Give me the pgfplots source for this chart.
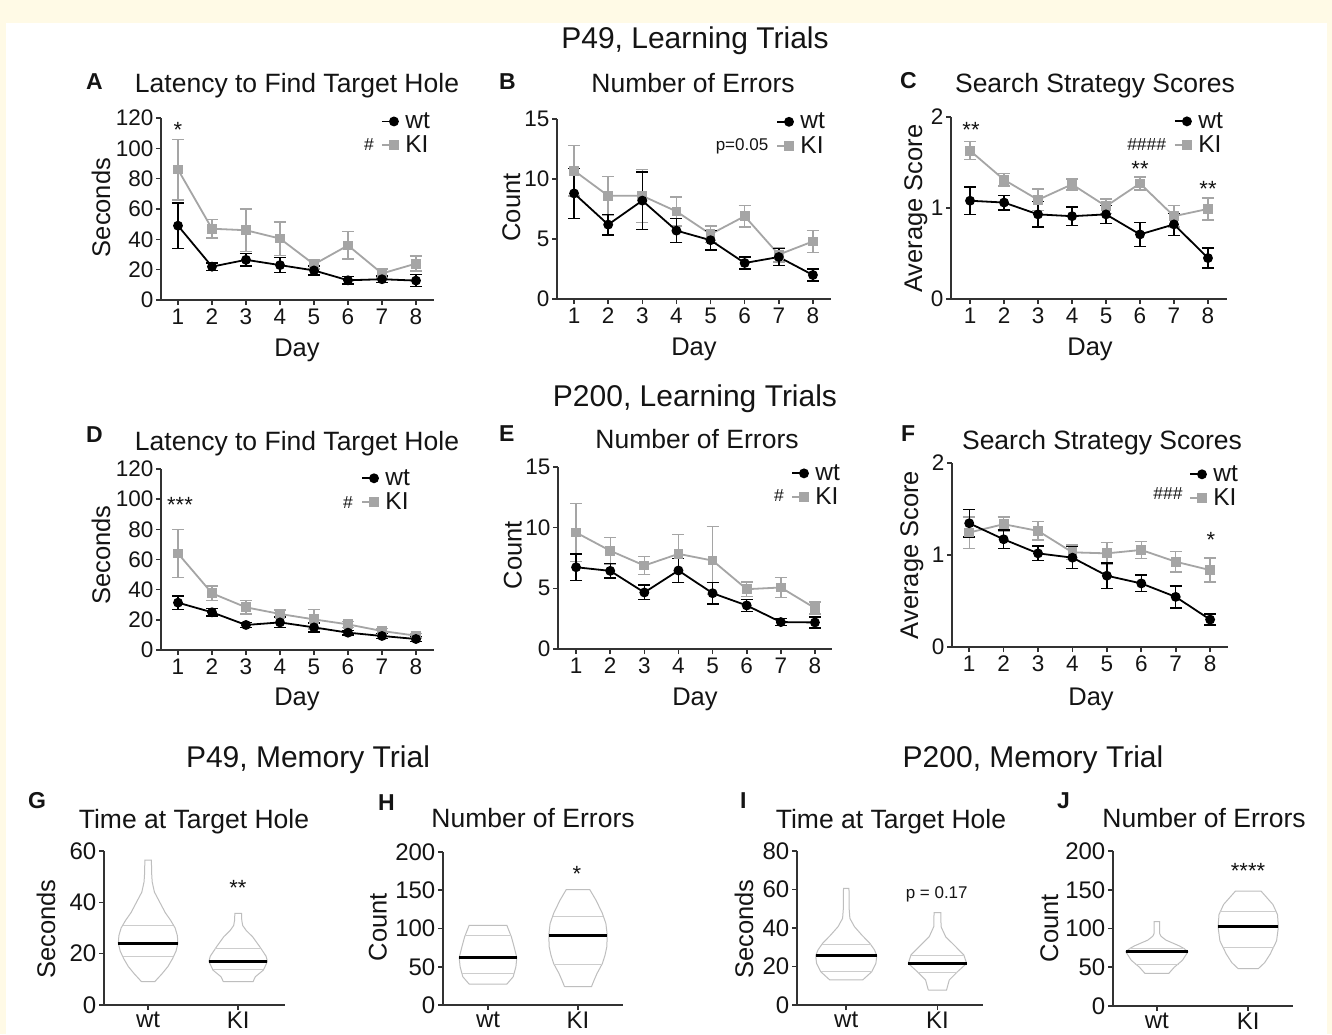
\documentclass[border=0pt]{standalone}
\usepackage{fontspec}
\setmainfont{Liberation Sans}
\usepackage{pgfplots}
\usepackage{pgfplotstable}
\pgfplotsset{compat=1.18}
\definecolor{cream}{RGB}{255,250,230}
\definecolor{kigray}{RGB}{165,165,165}
\definecolor{axgray}{RGB}{50,50,50}
\definecolor{vgray}{RGB}{190,190,190}
\definecolor{qgray}{RGB}{205,205,205}
\definecolor{txt}{RGB}{20,20,20}
\newcommand{\fs}[1]{\fontsize{#1}{#1}\selectfont}

\pgfplotstableread{
x wt ewt ki eki
1 49 15 86 20
2 22 2.5 47 6
3 26.5 4 46 14
4 23 5 40.5 11
5 19.5 3 23.5 3
6 13 2.5 36 9
7 13.7 2 17.5 3
8 12.8 4 24 5
}\tabA
\pgfplotstableread{
x wt ewt ki eki
1 8.8 2.1 10.7 2.1
2 6.2 0.85 8.6 1.6
3 8.2 2.4 8.6 2.2
4 5.7 1.0 7.3 1.2
5 4.9 0.8 5.4 0.7
6 3.0 0.5 6.9 0.9
7 3.5 0.7 3.7 0.6
8 2.0 0.5 4.8 0.9
}\tabB
\pgfplotstableread{
x wt ewt ki eki
1 1.08 0.15 1.63 0.10
2 1.06 0.08 1.31 0.07
3 0.93 0.14 1.09 0.12
4 0.91 0.10 1.26 0.06
5 0.93 0.10 1.02 0.08
6 0.71 0.13 1.27 0.07
7 0.82 0.12 0.91 0.12
8 0.45 0.11 0.99 0.12
}\tabC
\pgfplotstableread{
x wt ewt ki eki
1 31.4 4.5 64 16
2 25 2.5 37.6 4.8
3 16.6 1.5 28.3 4.5
4 18.3 3.5 23.9 2.5
5 15 3 20.3 6.5
6 11.5 1.5 17 2
7 9.3 1.5 12.6 1.5
8 7.3 1.5 9.5 1.5
}\tabD
\pgfplotstableread{
x wt ewt ki eki
1 6.74 1.1 9.6 2.4
2 6.44 0.6 8.1 1.1
3 4.66 0.6 6.88 0.75
4 6.47 1.0 7.84 1.6
5 4.6 0.9 7.29 2.8
6 3.59 0.5 4.93 0.6
7 2.22 0.3 5.07 0.8
8 2.19 0.45 3.37 0.5
}\tabE
\pgfplotstableread{
x wt ewt ki eki
1 1.345 0.15 1.244 0.17
2 1.171 0.10 1.335 0.08
3 1.018 0.08 1.262 0.10
4 0.971 0.12 1.029 0.08
5 0.775 0.14 1.018 0.12
6 0.691 0.09 1.055 0.09
7 0.545 0.12 0.927 0.11
8 0.298 0.06 0.836 0.13
}\tabF

\pgfplotsset{
  legend image code/.code={\draw[mark repeat=2,mark phase=2,#1] plot coordinates {(0pt,0pt) (12pt,0pt) (14pt,0pt)}; \path (21pt,0pt);},
  gp/.style={
    scale only axis, axis lines*=left,
    axis line style={line width=1.8pt, axgray, -},
    tick style={line width=1.6pt, axgray}, tick align=outside, major tick length=5pt,
    /pgf/number format/assume math mode=true,
    ticklabel style={font=\fs{22.5}, text=txt},
    yticklabel style={inner sep=2.5pt},
    clip=false,
  },
  lineax/.style={gp, xtick={1,...,8},
    legend style={draw=none, fill=none, font=\fs{24.5}, anchor=north east, inner sep=0pt,
      row sep=3pt, nodes={inner sep=1.5pt, text=txt}},
    legend cell align=left, reverse legend},
  wtp/.style={black, line width=1.8pt, mark=*, mark size=4pt, mark options={solid, fill=black, draw=black},
    error bars/.cd, y dir=both, y explicit,
    error bar style={line width=1.4pt, black},
    error mark options={rotate=90, mark size=6pt, line width=1.4pt, black}},
  kip/.style={kigray, line width=1.8pt, mark=square*, mark size=4pt, mark options={solid, fill=kigray, draw=kigray},
    error bars/.cd, y dir=both, y explicit,
    error bar style={line width=1.4pt, kigray},
    error mark options={rotate=90, mark size=6pt, line width=1.4pt, kigray}},
  vio/.style={gp, xtick={1,2}, xticklabels={wt,KI},
    ticklabel style={font=\fs{24}},
    xticklabel style={font=\fs{24}, inner sep=1.5pt}},
  vout/.style={draw=vgray, line width=1pt, mark=none},
  vq/.style={draw=qgray, line width=1pt, mark=none},
  vmed/.style={draw=black, line width=3pt, mark=none},
}

\begin{document}
\begin{tikzpicture}[x=1pt,y=1pt]
\useasboundingbox (0,0) rectangle (1332,-1034);
\fill[cream] (0,0) rectangle (1332,-1034);
\fill[white] (6,-23) rectangle (1327,-1034);

% ---------- A ----------
\begin{axis}[lineax, at={(161pt,-300pt)}, anchor=south west, width=273pt, height=182pt,
  xmin=0.5, xmax=8.53, ymin=0, ymax=120, ytick={0,20,...,120}, legend style={at={(0.991,1.038)}}]
\addplot[kip] table[x=x, y=ki, y error=eki] {\tabA}; \addlegendentry{KI}
\addplot[wtp] table[x=x, y=wt, y error=ewt] {\tabA}; \addlegendentry{wt}
\end{axis}
% ---------- B ----------
\begin{axis}[lineax, at={(557pt,-299pt)}, anchor=south west, width=274pt, height=180pt,
  xmin=0.5, xmax=8.53, ymin=0, ymax=15, ytick={0,5,10,15}, legend style={at={(0.984,1.042)}}]
\addplot[kip] table[x=x, y=ki, y error=eki] {\tabB}; \addlegendentry{KI}
\addplot[wtp] table[x=x, y=wt, y error=ewt] {\tabB}; \addlegendentry{wt}
\end{axis}
% ---------- C ----------
\begin{axis}[lineax, at={(951pt,-299pt)}, anchor=south west, width=276pt, height=182pt,
  xmin=0.44, xmax=8.56, ymin=0, ymax=2, ytick={0,1,2}, legend style={at={(0.991,1.033)}}]
\addplot[kip] table[x=x, y=ki, y error=eki] {\tabC}; \addlegendentry{KI}
\addplot[wtp] table[x=x, y=wt, y error=ewt] {\tabC}; \addlegendentry{wt}
\end{axis}
% ---------- D ----------
\begin{axis}[lineax, at={(161pt,-650pt)}, anchor=south west, width=273pt, height=181pt,
  xmin=0.5, xmax=8.53, ymin=0, ymax=120, ytick={0,20,...,120}, legend style={at={(0.918,1.006)}}]
\addplot[kip] table[x=x, y=ki, y error=eki] {\tabD}; \addlegendentry{KI}
\addplot[wtp] table[x=x, y=wt, y error=ewt] {\tabD}; \addlegendentry{wt}
\end{axis}
% ---------- E ----------
\begin{axis}[lineax, at={(558pt,-649pt)}, anchor=south west, width=274pt, height=182pt,
  xmin=0.47, xmax=8.5, ymin=0, ymax=15, ytick={0,5,10,15}, legend style={at={(1.035,1.022)}}]
\addplot[kip] table[x=x, y=ki, y error=eki] {\tabE}; \addlegendentry{KI}
\addplot[wtp] table[x=x, y=wt, y error=ewt] {\tabE}; \addlegendentry{wt}
\end{axis}
% ---------- F ----------
\begin{axis}[lineax, at={(952pt,-647pt)}, anchor=south west, width=276pt, height=184pt,
  xmin=0.5, xmax=8.52, ymin=0, ymax=2, ytick={0,1,2}, legend style={at={(1.042,0.995)}}]
\addplot[kip] table[x=x, y=ki, y error=eki] {\tabF}; \addlegendentry{KI}
\addplot[wtp] table[x=x, y=wt, y error=ewt] {\tabF}; \addlegendentry{wt}
\end{axis}

% ---------- G ----------
\begin{axis}[vio, at={(104pt,-1005pt)}, anchor=south west, width=181pt, height=154pt,
  xmin=0.51, xmax=2.52, ymin=0, ymax=60, ytick={0,20,40,60}]
\addplot[vout] coordinates {(0.926,9.1) (0.89,10.5) (0.85,12) (0.78,15) (0.73,18) (0.69,21) (0.67,24) (0.675,27) (0.70,30) (0.75,33) (0.81,36) (0.87,40) (0.93,44) (0.955,48) (0.962,52) (0.963,56.5)
 (1.037,56.5) (1.038,52) (1.045,48) (1.07,44) (1.13,40) (1.19,36) (1.25,33) (1.30,30) (1.325,27) (1.33,24) (1.31,21) (1.27,18) (1.22,15) (1.15,12) (1.11,10.5) (1.074,9.1) (0.926,9.1)};
\addplot[vq] coordinates {(0.72,31) (1.28,31)};
\addplot[vq] coordinates {(0.72,19) (1.28,19)};
\addplot[vmed] coordinates {(0.665,24) (1.335,24)};
\addplot[vout] coordinates {(1.835,9.1) (1.81,11) (1.72,13.6) (1.675,17) (1.69,19) (1.76,22.7) (1.84,26.6) (1.91,29) (1.95,31) (1.96,33) (1.963,35.7)
 (2.037,35.7) (2.04,33) (2.05,31) (2.09,29) (2.16,26.6) (2.24,22.7) (2.31,19) (2.325,17) (2.28,13.6) (2.19,11) (2.165,9.1) (1.835,9.1)};
\addplot[vq] coordinates {(1.747,22) (2.253,22)};
\addplot[vq] coordinates {(1.72,13.8) (2.28,13.8)};
\addplot[vmed] coordinates {(1.675,17) (2.325,17)};
\end{axis}

% ---------- H ----------
\begin{axis}[vio, at={(443pt,-1005pt)}, anchor=south west, width=180pt, height=153pt,
  xmin=0.5, xmax=2.5, ymin=0, ymax=200, ytick={0,50,...,200}]
\addplot[vout] coordinates {(0.79,27.4) (0.72,37) (0.69,50) (0.68,62) (0.71,76) (0.74,89) (0.77,98) (0.79,104)
 (1.21,104) (1.23,98) (1.26,89) (1.29,76) (1.32,62) (1.31,50) (1.28,37) (1.21,27.4) (0.79,27.4)};
\addplot[vq] coordinates {(0.74,90.4) (1.26,90.4)};
\addplot[vq] coordinates {(0.71,41.3) (1.29,41.3)};
\addplot[vmed] coordinates {(0.68,61.7) (1.32,61.7)};
\addplot[vout] coordinates {(1.85,24) (1.83,30) (1.79,41) (1.73,54) (1.70,65) (1.68,76) (1.675,91) (1.69,106.5) (1.73,120) (1.80,137) (1.87,151)
 (2.13,151) (2.20,137) (2.27,120) (2.31,106.5) (2.325,91) (2.32,76) (2.30,65) (2.27,54) (2.21,41) (2.17,30) (2.15,24) (1.85,24)};
\addplot[vq] coordinates {(1.72,116) (2.28,116)};
\addplot[vq] coordinates {(1.735,53) (2.265,53)};
\addplot[vmed] coordinates {(1.675,91) (2.325,91)};
\end{axis}

% ---------- I ----------
\begin{axis}[vio, at={(797pt,-1005pt)}, anchor=south west, width=186pt, height=154pt,
  xmin=0.46, xmax=2.5, ymin=0, ymax=80, ytick={0,20,...,80}]
\addplot[vout] coordinates {(0.82,13) (0.72,17.3) (0.675,21.6) (0.665,25.6) (0.69,28.6) (0.74,32) (0.83,36.4) (0.91,40.7) (0.96,45) (0.968,50) (0.97,60.6)
 (1.03,60.6) (1.032,50) (1.04,45) (1.09,40.7) (1.17,36.4) (1.26,32) (1.31,28.6) (1.335,25.6) (1.325,21.6) (1.28,17.3) (1.18,13) (0.82,13)};
\addplot[vq] coordinates {(0.73,31.5) (1.27,31.5)};
\addplot[vq] coordinates {(0.72,17.3) (1.28,17.3)};
\addplot[vmed] coordinates {(0.665,25.6) (1.335,25.6)};
\addplot[vout] coordinates {(1.90,7.8) (1.87,13) (1.78,17.3) (1.68,21.6) (1.71,26) (1.80,30.3) (1.91,35.5) (1.96,40.7) (1.963,48)
 (2.037,48) (2.04,40.7) (2.09,35.5) (2.20,30.3) (2.29,26) (2.32,21.6) (2.22,17.3) (2.13,13) (2.10,7.8) (1.90,7.8)};
\addplot[vq] coordinates {(1.71,25.6) (2.29,25.6)};
\addplot[vq] coordinates {(1.79,16.8) (2.21,16.8)};
\addplot[vmed] coordinates {(1.68,21.6) (2.32,21.6)};
\end{axis}

% ---------- J ----------
\begin{axis}[vio, at={(1113pt,-1006pt)}, anchor=south west, width=180pt, height=155pt,
  xmin=0.52, xmax=2.49, ymin=0, ymax=200, ytick={0,50,...,200}]
\addplot[vout] coordinates {(0.87,42) (0.81,50) (0.72,59) (0.66,70) (0.70,74) (0.755,77.6) (0.90,85) (0.955,90) (0.97,93.8) (0.97,108.8)
 (1.03,108.8) (1.03,93.8) (1.045,90) (1.10,85) (1.245,77.6) (1.30,74) (1.34,70) (1.28,59) (1.19,50) (1.13,42) (0.87,42)};
\addplot[vq] coordinates {(0.70,74) (1.30,74)};
\addplot[vq] coordinates {(0.76,54) (1.24,54)};
\addplot[vmed] coordinates {(0.66,70) (1.34,70)};
\addplot[vout] coordinates {(1.89,48.2) (1.82,56) (1.76,67) (1.69,84) (1.67,102) (1.68,118) (1.73,131) (1.86,148.3)
 (2.14,148.3) (2.27,131) (2.32,118) (2.33,102) (2.31,84) (2.24,67) (2.18,56) (2.11,48.2) (1.89,48.2)};
\addplot[vq] coordinates {(1.69,121.7) (2.31,121.7)};
\addplot[vq] coordinates {(1.72,75) (2.28,75)};
\addplot[vmed] coordinates {(1.67,102.5) (2.33,102.5)};
\end{axis}

% ---------- section titles ----------
\begin{scope}[every node/.style={text=txt}]
\node[anchor=base, font=\fs{30}] at (695,-48) {P49, Learning Trials};
\node[anchor=base, font=\fs{30}] at (695,-406) {P200, Learning Trials};
\node[anchor=base, font=\fs{30}] at (308,-767) {P49, Memory Trial};
\node[anchor=base, font=\fs{30}] at (1033,-767) {P200, Memory Trial};
% panel titles
\node[anchor=base, font=\fs{26.5}] at (297,-92) {Latency to Find Target Hole};
\node[anchor=base, font=\fs{26.5}] at (693,-92) {Number of Errors};
\node[anchor=base, font=\fs{26.5}] at (1095,-92) {Search Strategy Scores};
\node[anchor=base, font=\fs{26.5}] at (297,-450) {Latency to Find Target Hole};
\node[anchor=base, font=\fs{26.5}] at (697,-448.5) {Number of Errors};
\node[anchor=base, font=\fs{26.5}] at (1102,-449) {Search Strategy Scores};
\node[anchor=base, font=\fs{26.5}] at (194,-828) {Time at Target Hole};
\node[anchor=base, font=\fs{26.5}] at (533,-827) {Number of Errors};
\node[anchor=base, font=\fs{26.5}] at (891,-828) {Time at Target Hole};
\node[anchor=base, font=\fs{26.5}] at (1204,-827) {Number of Errors};
% panel letters
\node[anchor=base west, inner sep=0pt, font=\fs{23}\bfseries] at (86,-89) {A};
\node[anchor=base west, inner sep=0pt, font=\fs{23}\bfseries] at (499,-89) {B};
\node[anchor=base west, inner sep=0pt, font=\fs{23}\bfseries] at (900,-88.5) {C};
\node[anchor=base west, inner sep=0pt, font=\fs{23}\bfseries] at (86,-442) {D};
\node[anchor=base west, inner sep=0pt, font=\fs{23}\bfseries] at (499,-441) {E};
\node[anchor=base west, inner sep=0pt, font=\fs{23}\bfseries] at (901,-441) {F};
\node[anchor=base west, inner sep=0pt, font=\fs{23}\bfseries] at (28,-808) {G};
\node[anchor=base west, inner sep=0pt, font=\fs{23}\bfseries] at (378,-810) {H};
\node[anchor=base west, inner sep=0pt, font=\fs{23}\bfseries] at (740,-808) {I};
\node[anchor=base west, inner sep=0pt, font=\fs{23}\bfseries] at (1057,-808) {J};
% y labels
\node[anchor=base, rotate=90, inner sep=0pt, font=\fs{25.5}] at (110,-207.5) {Seconds};
\node[anchor=base, rotate=90, inner sep=0pt, font=\fs{25.5}] at (520,-207.5) {Count};
\node[anchor=base, rotate=90, inner sep=0pt, font=\fs{25.5}] at (922,-208.5) {Average Score};
\node[anchor=base, rotate=90, inner sep=0pt, font=\fs{25.5}] at (110,-555) {Seconds};
\node[anchor=base, rotate=90, inner sep=0pt, font=\fs{25.5}] at (521.7,-555) {Count};
\node[anchor=base, rotate=90, inner sep=0pt, font=\fs{25.5}] at (918,-555) {Average Score};
\node[anchor=base, rotate=90, inner sep=0pt, font=\fs{25.5}] at (55,-929) {Seconds};
\node[anchor=base, rotate=90, inner sep=0pt, font=\fs{25.5}] at (386.7,-927) {Count};
\node[anchor=base, rotate=90, inner sep=0pt, font=\fs{25.5}] at (753,-929) {Seconds};
\node[anchor=base, rotate=90, inner sep=0pt, font=\fs{25.5}] at (1058,-928) {Count};
% x labels
\node[anchor=base, inner sep=0pt, font=\fs{25.5}] at (297,-356) {Day};
\node[anchor=base, inner sep=0pt, font=\fs{25.5}] at (694,-355) {Day};
\node[anchor=base, inner sep=0pt, font=\fs{25.5}] at (1090,-355) {Day};
\node[anchor=base, inner sep=0pt, font=\fs{25.5}] at (297,-705) {Day};
\node[anchor=base, inner sep=0pt, font=\fs{25.5}] at (695,-705) {Day};
\node[anchor=base, inner sep=0pt, font=\fs{25.5}] at (1091,-705) {Day};
% significance marks
\node[anchor=base, inner sep=0pt, font=\fs{22}] at (178,-137) {*};
\node[anchor=base, inner sep=0pt, font=\fs{22}] at (971,-137) {**};
\node[anchor=base, inner sep=0pt, font=\fs{22}] at (1140,-176.5) {**};
\node[anchor=base, inner sep=0pt, font=\fs{22}] at (1208,-196) {**};
\node[anchor=base, inner sep=0pt, font=\fs{22}] at (180,-512) {***};
\node[anchor=base, inner sep=0pt, font=\fs{22}] at (1211,-547.5) {*};
\node[anchor=base, inner sep=0pt, font=\fs{22}] at (238,-895) {**};
\node[anchor=base, inner sep=0pt, font=\fs{22}] at (577,-881) {*};
\node[anchor=base, inner sep=0pt, font=\fs{22}] at (1248,-878.5) {****};
\node[anchor=base, inner sep=0pt, font=\fs{17.5}] at (369,-150) {\#};
\node[anchor=base, inner sep=0pt, font=\fs{17.5}] at (1146.7,-150) {\#\#\#\#};
\node[anchor=base, inner sep=0pt, font=\fs{17.5}] at (348,-508) {\#};
\node[anchor=base, inner sep=0pt, font=\fs{17.5}] at (779,-501.7) {\#};
\node[anchor=base, inner sep=0pt, font=\fs{17.5}] at (1168,-499.3) {\#\#\#};
\node[anchor=base, inner sep=0pt, font=\fs{17}] at (742,-150) {p=0.05};
\node[anchor=base, inner sep=0pt, font=\fs{17}] at (936.7,-898.3) {p = 0.17};
\end{scope}
\end{tikzpicture}
\end{document}
